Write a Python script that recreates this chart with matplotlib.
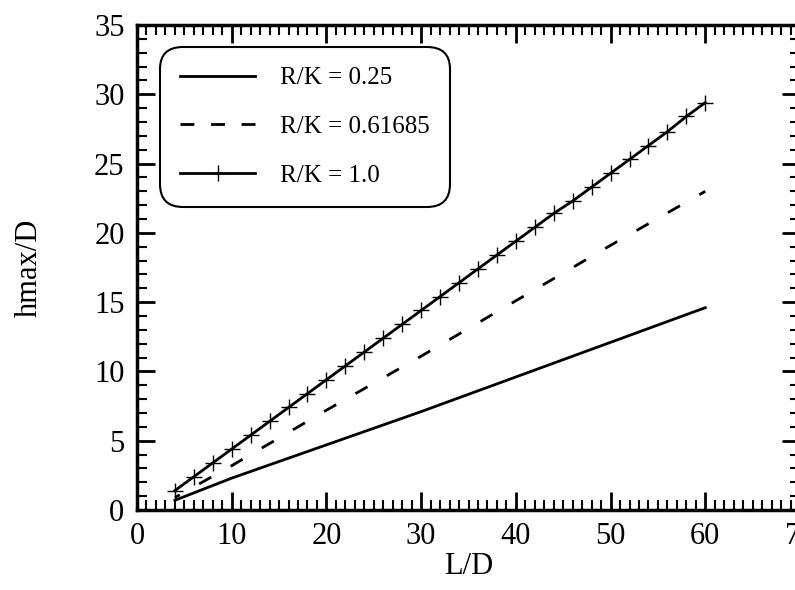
import matplotlib.pyplot as plt
from matplotlib.ticker import MultipleLocator

plt.rcParams['font.family'] = ['Liberation Serif', 'DejaVu Serif']

# L/D values and hmax/D
ld_a = [4, 10, 20, 30, 40, 50, 60]
rk_025 = [0.7, 2.3, 4.7, 7.1, 9.6, 12.1, 14.6]

ld_b = [4, 10, 20, 30, 40, 50, 60]
rk_061685 = [0.9, 3.2, 7.2, 11.1, 15.1, 19.1, 23.0]

ld_c = [4, 6, 8, 10, 12, 14, 16, 18, 20, 22, 24, 26, 28, 30, 32,
        34, 36, 38, 40, 42, 44, 46, 48, 50, 52, 54, 56, 58, 60]
rk_10 = [1.4, 2.4, 3.4, 4.4, 5.4, 6.4, 7.4, 8.4, 9.4, 10.4, 11.4, 12.4,
         13.4, 14.4, 15.4, 16.4, 17.4, 18.4, 19.4, 20.4, 21.4, 22.3, 23.3,
         24.3, 25.3, 26.3, 27.3, 28.4, 29.4]

labels = ['R/K = 0.25', 'R/K = 0.61685', 'R/K = 1.0']

fig = plt.figure(figsize=(7.95, 5.9), dpi=100)
# right spine sits just outside the picture, as in the scan
ax = fig.add_axes([137/795, 80/590, 663/795, 485/590])

ax.plot(ld_a, rk_025, color='black', lw=2, label=labels[0])
ax.plot(ld_b, rk_061685, color='black', lw=2, linestyle=(3, (5, 8)), label=labels[1])
ax.plot(ld_c, rk_10, color='black', lw=2, marker='+', markersize=11,
        markeredgewidth=1, label=labels[2])

ax.set_xlim(0, 70)
ax.set_ylim(0, 35)
ax.xaxis.set_major_locator(MultipleLocator(10))
ax.xaxis.set_minor_locator(MultipleLocator(1))
ax.yaxis.set_major_locator(MultipleLocator(5))
ax.yaxis.set_minor_locator(MultipleLocator(1))
ax.tick_params(which='both', direction='in', top=True, right=True, labelsize=22)
ax.tick_params(which='major', length=13, width=2, pad=9)
ax.tick_params(which='minor', length=7, width=1.5)
for s in ax.spines.values():
    s.set_linewidth(2.5)

ax.set_xlabel('L/D', fontsize=22, labelpad=0)
ax.set_ylabel('hmax/D', fontsize=22, labelpad=36)

leg = ax.legend(loc='upper left', bbox_to_anchor=(0.035, 0.955), fontsize=18,
                handlelength=3.0, handletextpad=1.0, labelspacing=1.05,
                borderpad=0.8, borderaxespad=0, numpoints=1, frameon=True,
                fancybox=True)
# three even dashes in the legend sample
leg.get_lines()[1].set_linestyle((0, (5, 6)))
fr = leg.get_frame()
fr.set_edgecolor('black')
fr.set_linewidth(1.5)
fr.set_alpha(1)
fr.set_boxstyle('round,pad=0,rounding_size=0.9')

fig.savefig('out.png', dpi=100)
